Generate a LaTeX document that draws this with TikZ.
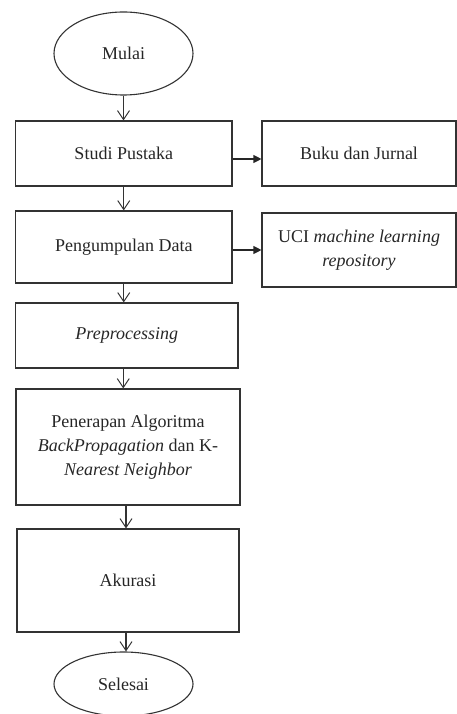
\documentclass[tikz,border=0pt]{standalone}
\usepackage{fontspec}
\setmainfont{Liberation Serif}
\usetikzlibrary{shapes.geometric,arrows.meta}
\begin{document}
\begin{tikzpicture}[x=1pt,y=-1pt,
  line width=1.1pt,
  every node/.style={font=\fontsize{18}{24}\selectfont, text=black!85, align=center},
  box/.style={draw=black!80, rectangle, inner sep=0pt},
  term/.style={draw=black!80, ellipse, inner sep=0pt},
  down/.style={draw=black!80, -{Straight Barb[length=9pt,width=12pt,line width=1pt]}},
  side/.style={draw=black!85, -{Triangle[length=8pt,width=8pt]}}]
\useasboundingbox (0,0) rectangle (457,714);
\node[term, minimum width=139pt, minimum height=83pt] (mulai) at (123.5,53.5) {Mulai};
\node[box, minimum width=216.5pt, minimum height=65pt] (studi) at (123.75,153.5) {Studi Pustaka};
\node[box, minimum width=194pt, minimum height=65pt] (buku) at (359,153.5) {Buku dan Jurnal};
\node[box, minimum width=216.5pt, minimum height=72pt] (peng) at (123.75,247) {Pengumpulan Data};
\node[box, minimum width=194pt, minimum height=74pt] (uci) at (359,250) {UCI \textit{machine learning}\\\textit{repository}};
\node[box, minimum width=222.5pt, minimum height=65pt] (pre) at (126.75,335.5) {\textit{Preprocessing}};
\node[box, minimum width=224pt, minimum height=116pt] (pen) at (128,447) {Penerapan Algoritma\\\textit{BackPropagation} dan K-\\\textit{Nearest Neighbor}};
\node[box, minimum width=222pt, minimum height=103pt] (aku) at (128,580.5) {Akurasi};
\node[term, minimum width=139pt, minimum height=64pt] (sel) at (123.5,684) {Selesai};
\draw[down] (mulai.south) -- (mulai.south |- studi.north);
\draw[down] (studi.south) -- (studi.south |- peng.north);
\draw[down] (peng.south) -- (peng.south |- pre.north);
\draw[down] ([xshift=-3.5pt]pre.south) -- ([xshift=-3.5pt]pre.south |- pen.north);
\draw[down] ([xshift=-2pt]pen.south) -- ([xshift=-2pt]pen.south |- aku.north);
\draw[down] ([xshift=-2pt]aku.south) -- ([xshift=-2pt]aku.south |- sel.north);
\draw[side] ([yshift=-5.5pt]studi.east) -- ([yshift=-5.5pt]studi.east -| buku.west);
\draw[side] ([yshift=-3pt]peng.east) -- ([yshift=-3pt]peng.east -| uci.west);
\end{tikzpicture}
\end{document}
